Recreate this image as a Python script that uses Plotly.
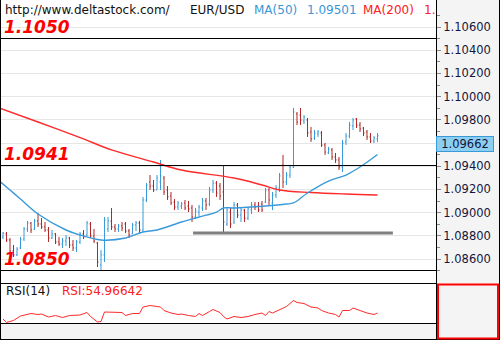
import plotly.graph_objects as go

# ---------------- EUR/USD bars, oldest to newest ----------------
bar_open = [
    1.08790, 1.08816, 1.08764, 1.08669, 1.08635, 1.08695, 1.08772, 1.08859, 1.08910, 1.08859,
    1.08928, 1.08902, 1.08876, 1.08850, 1.08781, 1.08816, 1.08747, 1.08729, 1.08755, 1.08781,
    1.08721, 1.08695, 1.08747, 1.08816, 1.08807, 1.08902, 1.08798, 1.08738, 1.08548, 1.08635,
    1.08859, 1.08928, 1.08876, 1.08859, 1.08885, 1.08902, 1.08841, 1.08816, 1.08893, 1.08910,
    1.08850, 1.09109, 1.09264, 1.09229, 1.09195, 1.09264, 1.09298, 1.09195, 1.09143, 1.09091,
    1.09048, 1.09057, 1.09083, 1.09057, 1.09040, 1.08962, 1.09005, 1.09040, 1.09100, 1.09074,
    1.09195, 1.09255, 1.09229, 1.09178, 1.08902, 1.09005, 1.08919, 1.09066, 1.08979, 1.09022,
    1.08953, 1.09022, 1.09066, 1.09057, 1.09074, 1.09091, 1.09195, 1.09083, 1.09152, 1.09212,
    1.09410, 1.09264, 1.09324, 1.09393, 1.09850, 1.09841, 1.09790, 1.09798, 1.09695, 1.09643,
    1.09678, 1.09686, 1.09583, 1.09514, 1.09540, 1.09479, 1.09454, 1.09393, 1.09609, 1.09660,
    1.09747, 1.09807, 1.09755, 1.09729, 1.09695, 1.09652, 1.09617, 1.09635,
]
bar_high = [
    1.08833, 1.08833, 1.08781, 1.08721, 1.08703, 1.08790, 1.08876, 1.08928, 1.08919, 1.08945,
    1.08997, 1.08953, 1.08919, 1.08876, 1.08850, 1.08824, 1.08790, 1.08781, 1.08807, 1.08790,
    1.08764, 1.08764, 1.08833, 1.08850, 1.08928, 1.08919, 1.08859, 1.08747, 1.08678, 1.08962,
    1.08962, 1.09040, 1.08902, 1.08902, 1.08919, 1.08919, 1.08859, 1.08910, 1.08928, 1.08928,
    1.09135, 1.09255, 1.09324, 1.09281, 1.09324, 1.09454, 1.09316, 1.09229, 1.09178, 1.09117,
    1.09100, 1.09091, 1.09109, 1.09100, 1.09066, 1.09040, 1.09066, 1.09126, 1.09126, 1.09221,
    1.09281, 1.09272, 1.09255, 1.09410, 1.09048, 1.09040, 1.09091, 1.09083, 1.09040, 1.09031,
    1.09048, 1.09091, 1.09091, 1.09091, 1.09100, 1.09212, 1.09212, 1.09178, 1.09238, 1.09341,
    1.09497, 1.09350, 1.09410, 1.09902, 1.09867, 1.09902, 1.09841, 1.09816, 1.09738, 1.09712,
    1.09712, 1.09703, 1.09600, 1.09566, 1.09557, 1.09514, 1.09479, 1.09626, 1.09686, 1.09781,
    1.09816, 1.09816, 1.09781, 1.09738, 1.09712, 1.09686, 1.09660, 1.09686,
]
bar_low = [
    1.08772, 1.08747, 1.08652, 1.08617, 1.08626, 1.08686, 1.08755, 1.08833, 1.08824, 1.08850,
    1.08876, 1.08859, 1.08833, 1.08747, 1.08772, 1.08729, 1.08712, 1.08695, 1.08712, 1.08695,
    1.08669, 1.08660, 1.08729, 1.08772, 1.08798, 1.08781, 1.08738, 1.08531, 1.08500, 1.08574,
    1.08833, 1.08850, 1.08833, 1.08833, 1.08841, 1.08824, 1.08781, 1.08816, 1.08841, 1.08824,
    1.08833, 1.09091, 1.09195, 1.09178, 1.09195, 1.09195, 1.09152, 1.09109, 1.09066, 1.09022,
    1.09022, 1.09031, 1.09022, 1.09005, 1.08919, 1.08945, 1.08971, 1.09014, 1.09022, 1.09057,
    1.09169, 1.09135, 1.09109, 1.08824, 1.08885, 1.08867, 1.08902, 1.08953, 1.08919, 1.08919,
    1.08936, 1.08988, 1.09022, 1.09005, 1.09005, 1.09083, 1.09057, 1.09022, 1.09126, 1.09178,
    1.09212, 1.09238, 1.09298, 1.09385, 1.09755, 1.09755, 1.09764, 1.09652, 1.09609, 1.09626,
    1.09652, 1.09566, 1.09497, 1.09505, 1.09454, 1.09428, 1.09367, 1.09350, 1.09583, 1.09643,
    1.09712, 1.09729, 1.09695, 1.09660, 1.09626, 1.09600, 1.09600, 1.09609,
]
bar_close = [
    1.08824, 1.08764, 1.08669, 1.08635, 1.08686, 1.08772, 1.08859, 1.08910, 1.08850, 1.08928,
    1.08902, 1.08876, 1.08850, 1.08781, 1.08816, 1.08747, 1.08729, 1.08755, 1.08781, 1.08721,
    1.08695, 1.08747, 1.08816, 1.08790, 1.08910, 1.08798, 1.08755, 1.08574, 1.08635, 1.08936,
    1.08928, 1.08876, 1.08859, 1.08885, 1.08867, 1.08841, 1.08807, 1.08893, 1.08910, 1.08850,
    1.09109, 1.09238, 1.09229, 1.09195, 1.09298, 1.09316, 1.09178, 1.09135, 1.09083, 1.09048,
    1.09083, 1.09074, 1.09040, 1.09031, 1.08962, 1.09014, 1.09048, 1.09100, 1.09066, 1.09195,
    1.09255, 1.09169, 1.09143, 1.08919, 1.09022, 1.08902, 1.09066, 1.08979, 1.09022, 1.08953,
    1.09031, 1.09066, 1.09048, 1.09022, 1.09022, 1.09195, 1.09109, 1.09152, 1.09212, 1.09316,
    1.09264, 1.09324, 1.09393, 1.09867, 1.09781, 1.09798, 1.09824, 1.09686, 1.09635, 1.09686,
    1.09695, 1.09583, 1.09522, 1.09548, 1.09479, 1.09454, 1.09393, 1.09600, 1.09660, 1.09755,
    1.09798, 1.09755, 1.09721, 1.09686, 1.09652, 1.09617, 1.09643, 1.09662,
]
bar_index = list(range(len(bar_close)))

# Moving averages (bar index -> value); index -1 is the bar just off the left edge
ma50_idx = [-1, 2, 5, 10, 18, 22, 28, 35, 40, 44, 51, 56, 61, 63, 66, 75, 81, 83, 87, 93, 98, 102, 107]
ma50_val = [1.09272, 1.09195, 1.09117, 1.08988, 1.08850, 1.08807, 1.08764, 1.08781, 1.08833, 1.08850,
            1.08919, 1.08962, 1.09005, 1.09040, 1.09040, 1.09057, 1.09074, 1.09083, 1.09169, 1.09272,
            1.09324, 1.09393, 1.09501]
ma200_idx = [-1, 10, 23, 31, 43, 51, 66, 74, 79, 88, 98, 107]
ma200_val = [1.09902, 1.09781, 1.09635, 1.09540, 1.09436, 1.09367, 1.09298, 1.09238, 1.09195, 1.09173,
             1.09160, 1.09152]

# RSI(14)
rsi_idx = [0, 1, 3, 5, 8, 10, 11, 13, 15, 17, 19, 22, 24, 25, 27, 28, 29, 31, 34, 35, 37, 39, 40, 42, 44,
           45, 46, 48, 50, 51, 53, 55, 56, 57, 59, 60, 62, 63, 64, 66, 68, 70, 72, 74, 75, 76, 77, 80, 81, 83,
           84, 86, 88, 90, 91, 93, 95, 96, 97, 99, 100, 102, 104, 106, 107]
rsi_val = [43, 36, 40, 49, 54, 52, 53, 47, 50, 46, 50, 51, 56, 48, 37, 38, 57, 56, 56, 50, 54, 54, 67, 70, 68,
           67, 60, 55, 52, 53, 50, 48, 54, 50, 58, 62, 56, 48, 43, 48, 46, 48, 52, 55, 50, 58, 55, 64, 68, 80,
           76, 74, 67, 65, 60, 55, 52, 47, 60, 60, 65, 60, 55, 52, 54.96642]

# Horizontal levels and their labels
levels = [1.1050, 1.0941, 1.0850]
level_labels = ["1.1050", "1.0941", "1.0850"]
support_level = 1.08824
support_from, support_to = 54.3, 111.4
last_price = 1.09662
ma50_text = "1.09501"
rsi_text = "RSI:54.96642"
# labelled scale steps (1.096 sits under the last-price marker, so it only gets a grid line)
price_ticks = [1.086, 1.088, 1.090, 1.092, 1.094, 1.098, 1.100, 1.102, 1.104, 1.106]
hidden_grid = [1.096]
minor_ticks = [1.085, 1.087, 1.089, 1.091, 1.093, 1.095, 1.097, 1.099, 1.101, 1.103, 1.105, 1.107]

# ---------------- geometry helpers (pixels -> paper) ----------------
W, H = 500, 340
PLOT_R = 436          # right edge of the price area
MAIN_B = 283          # bottom of price pane
RSI_B = 323           # bottom of RSI pane
PX_PER_UNIT = 11600   # vertical price scale, pixels per 1.0 of price


def px(x):
    return x / W


def py(y):
    return 1 - y / H


FONT = "DejaVu Sans"
UP = "#3a9ad9"
DOWN = "#b02828"
TXT = "#14143c"
GRID = "#e6e6e6"

x_lo = -3 / 3.5
x_hi = (PLOT_R - 3) / 3.5
p_top = 1.106 + 27 / PX_PER_UNIT
p_bot = p_top - MAIN_B / PX_PER_UNIT


def level_paper_y(v):
    # same mapping as the price axis, snapped to a pixel centre so 1px lines stay sharp
    pix = (p_top - v) * PX_PER_UNIT
    return py(int(pix) + 0.5)


fig = go.Figure()

fig.add_trace(go.Ohlc(
    x=bar_index, open=bar_open, high=bar_high, low=bar_low, close=bar_close,
    increasing=dict(line=dict(color=UP, width=1)),
    decreasing=dict(line=dict(color=DOWN, width=1)),
    tickwidth=0.3, xaxis="x", yaxis="y", hoverinfo="skip",
))
fig.add_trace(go.Scatter(
    x=ma200_idx, y=ma200_val, mode="lines", line=dict(color="#ff2a2a", width=1.4, shape="spline"),
    xaxis="x", yaxis="y", hoverinfo="skip",
))
fig.add_trace(go.Scatter(
    x=ma50_idx, y=ma50_val, mode="lines", line=dict(color="#3a9ad9", width=1.4, shape="spline"),
    xaxis="x", yaxis="y", hoverinfo="skip",
))
fig.add_trace(go.Scatter(
    x=rsi_idx, y=rsi_val, mode="lines", line=dict(color="#ff2a2a", width=1),
    xaxis="x2", yaxis="y2", hoverinfo="skip",
))

shapes = [
    # right-hand price scale background and bottom strip
    dict(type="rect", xref="paper", yref="paper", x0=px(PLOT_R), x1=1, y0=0, y1=1,
         fillcolor="#f4f4f4", line=dict(width=0), layer="below"),
    dict(type="rect", xref="paper", yref="paper", x0=0, x1=px(PLOT_R), y0=0, y1=py(RSI_B),
         fillcolor="#f4f4f4", line=dict(width=0), layer="below"),
]
for g in hidden_grid:
    yy = level_paper_y(g)
    shapes.append(dict(type="line", xref="paper", yref="paper", x0=0, x1=px(PLOT_R), y0=yy, y1=yy,
                       line=dict(color=GRID, width=1), layer="below"))
for lv in levels:
    yy = level_paper_y(lv)
    shapes.append(dict(type="line", xref="paper", yref="paper", x0=0, x1=px(PLOT_R), y0=yy, y1=yy,
                       line=dict(color="black", width=1)))
shapes.append(dict(type="line", xref="x", yref="y", x0=support_from, x1=support_to,
                   y0=support_level, y1=support_level, line=dict(color="#808080", width=3)))
# pane borders
for (x0, y0, x1, y1) in [
    (0.5, 0, 0.5, H), (PLOT_R + 0.5, 0, PLOT_R + 0.5, H), (W - 0.5, 0, W - 0.5, H),
    (0, MAIN_B + 0.5, PLOT_R, MAIN_B + 0.5), (0, RSI_B + 0.5, PLOT_R, RSI_B + 0.5),
    (0, H - 0.5, W, H - 0.5),
]:
    shapes.append(dict(type="line", xref="paper", yref="paper", x0=px(x0), x1=px(x1),
                       y0=py(y0), y1=py(y1), line=dict(color="black", width=1)))
shapes.append(dict(type="rect", xref="paper", yref="paper", x0=px(PLOT_R + 2), x1=px(W - 2),
                   y0=py(H - 1.5), y1=py(MAIN_B + 1.5), line=dict(color="#ff0000", width=2)))

annotations = []


def head(x, text, color, size=12, y=10):
    annotations.append(dict(xref="paper", yref="paper", x=px(x), y=py(y), xanchor="left",
                            yanchor="middle", text=text, showarrow=False,
                            font=dict(family=FONT, size=size, color=color)))


head(3, "http://www.deltastock.com/", "#111111")
head(188, "EUR/USD", "#111111")
head(252, "MA(50)", "#3a96d8")
head(305, ma50_text, "#3a96d8")
head(361, "MA(200)", "#ff2020")
head(422, "1.", "#ff2020")
head(4, "RSI(14)", "#111111", y=291)
head(60, rsi_text, "#ff2020", y=291)

for lv, lab in zip(levels, level_labels):
    annotations.append(dict(xref="paper", yref="y", x=px(2), y=lv, xanchor="left", yanchor="middle",
                            yshift=11.5, text=lab, showarrow=False,
                            font=dict(family=FONT, size=17, color="#ff0000", weight="bold",
                                      style="italic")))

# last-price marker on the price scale
annotations.append(dict(xref="paper", yref="y", x=px(PLOT_R), y=last_price, xanchor="left",
                        yanchor="middle", yshift=-8, text=f"{last_price:.5f}", showarrow=False,
                        bgcolor="#8ccff1", bordercolor="#3a9ad9", borderwidth=1, borderpad=0,
                        width=56, height=14,
                        font=dict(family=FONT, size=11.5, color=TXT)))

fig.update_layout(
    width=W, height=H, margin=dict(l=0, r=0, t=0, b=0),
    paper_bgcolor="white", plot_bgcolor="white", showlegend=False, hovermode=False,
    xaxis=dict(domain=[0, px(PLOT_R)], range=[x_lo, x_hi], visible=False,
               rangeslider=dict(visible=False), anchor="y"),
    xaxis2=dict(domain=[0, px(PLOT_R)], range=[x_lo, x_hi], visible=False, anchor="y2",
                matches="x"),
    yaxis=dict(domain=[py(MAIN_B), 1], range=[p_bot, p_top], side="right", anchor="x",
               tickmode="array", tickvals=price_ticks,
               ticktext=[f"{v:.5f}" for v in price_ticks],
               ticks="outside", ticklen=4, tickcolor="#8a8a8a", tickwidth=1,
               tickfont=dict(family=FONT, size=11.5, color=TXT),
               showgrid=True, gridcolor=GRID, gridwidth=1, zeroline=False, showline=False,
               minor=dict(tickvals=minor_ticks, ticks="outside", ticklen=3, tickcolor="#8a8a8a",
                          showgrid=False)),
    yaxis2=dict(domain=[py(RSI_B), py(MAIN_B)], range=[35, 115], side="right", anchor="x2",
                showgrid=False, zeroline=False, showticklabels=False, ticks=""),
    shapes=shapes,
    annotations=annotations,
)

fig.write_html("out.html")
